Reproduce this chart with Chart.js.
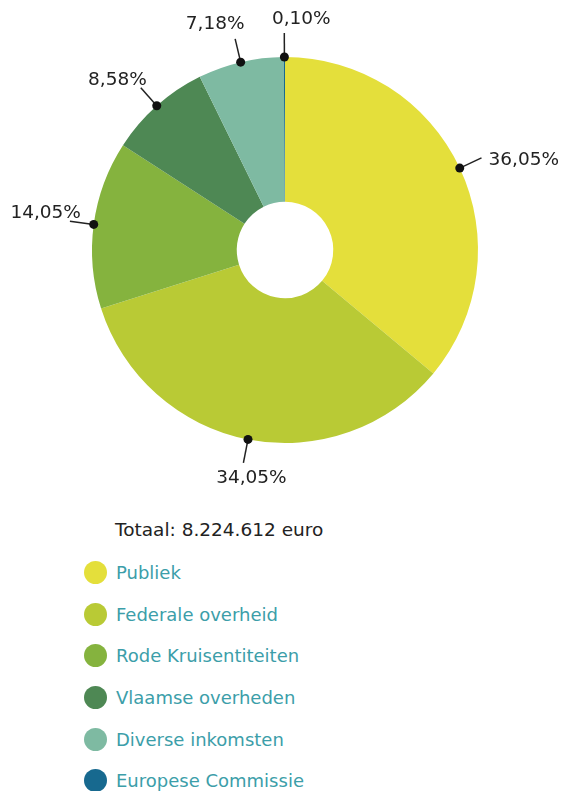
<!DOCTYPE html>
<html>
<head>
<meta charset="utf-8">
<script src="https://cdn.jsdelivr.net/npm/chart.js@4.4.1/dist/chart.umd.min.js"></script>
<style>
body { margin: 0; background: #fff; font-family: "DejaVu Sans", Verdana, sans-serif; }
#wrap { position: relative; width: 562px; height: 791px; overflow: hidden; }
#chart { position: absolute; left: 0; top: 0; }
#total { position: absolute; left: 115px; top: 519px; font-size: 18.5px; color: #222; }
#legend { position: absolute; left: 84px; top: 552px; margin: 0; padding: 0; list-style: none; }
#legend li { height: 41.6px; display: flex; align-items: center; font-size: 18px; color: #3c9ea9; }
#legend .dot { width: 23px; height: 23px; border-radius: 50%; margin-right: 9px; flex: none; }
</style>
</head>
<body>
<div id="wrap">
  <canvas id="chart" width="562" height="500"></canvas>
  <div id="total">Totaal: 8.224.612 euro</div>
  <ul id="legend"></ul>
</div>
<script>
var LABELS = ['Publiek', 'Federale overheid', 'Rode Kruisentiteiten', 'Vlaamse overheden', 'Diverse inkomsten', 'Europese Commissie'];
var SHARES = [36.05, 34.05, 14.05, 8.58, 7.18, 0.10];
var COLORS = ['#e4df3b', '#b9ca35', '#85b33e', '#4e8854', '#7ebaa2', '#17698f'];

// where each percentage text sits relative to the end of its leader line
var LABEL_PLACE = [
	{dx: 7, dy: 2, align: 'left'},
	{dx: 8, dy: 15, align: 'center'},
	{dx: 11, dy: -8, align: 'right'},
	{dx: 6, dy: -8, align: 'right'},
	{dx: -20, dy: -15, align: 'center'},
	{dx: 17, dy: -14, align: 'center'}
];

var leaderLabels = {
	id: 'leaderLabels',
	afterDatasetsDraw: function(chart, args, opts) {
		var ctx = chart.ctx;
		var values = chart.data.datasets[0].data;
		chart.getDatasetMeta(0).data.forEach(function(arc, i) {
			var p = arc.getProps(['x', 'y', 'startAngle', 'endAngle', 'outerRadius'], true);
			var mid = (p.startAngle + p.endAngle) / 2;
			var cx = Math.cos(mid), cy = Math.sin(mid);
			var px = p.x + cx * p.outerRadius, py = p.y + cy * p.outerRadius;
			var ex = p.x + cx * (p.outerRadius + opts.length), ey = p.y + cy * (p.outerRadius + opts.length);
			ctx.save();
			ctx.strokeStyle = '#222';
			ctx.lineWidth = 1.5;
			ctx.beginPath();
			ctx.moveTo(px, py);
			ctx.lineTo(ex, ey);
			ctx.stroke();
			ctx.fillStyle = '#111';
			ctx.beginPath();
			ctx.arc(px, py, 4.5, 0, Math.PI * 2);
			ctx.fill();
			var place = LABEL_PLACE[i];
			ctx.font = '18.5px "DejaVu Sans", Verdana, sans-serif';
			ctx.fillStyle = '#222';
			ctx.textAlign = place.align;
			ctx.textBaseline = 'middle';
			ctx.fillText(values[i].toFixed(2).replace('.', ',') + '%', ex + place.dx, ey + place.dy);
			ctx.restore();
		});
	}
};

new Chart(document.getElementById('chart').getContext('2d'), {
	type: 'doughnut',
	data: {
		labels: LABELS,
		datasets: [{
			data: SHARES,
			backgroundColor: COLORS,
			borderWidth: 0
		}]
	},
	options: {
		responsive: false,
		animation: false,
		cutout: '25%',
		layout: { padding: { left: 92, right: 84, top: 57, bottom: 57 } },
		plugins: {
			legend: { display: false },
			tooltip: { enabled: false },
			leaderLabels: { length: 24 }
		}
	},
	plugins: [leaderLabels]
});

// legend list below the total
var list = document.getElementById('legend');
LABELS.forEach(function(name, i) {
	var li = document.createElement('li');
	var dot = document.createElement('span');
	dot.className = 'dot';
	dot.style.background = COLORS[i];
	li.appendChild(dot);
	li.appendChild(document.createTextNode(name));
	list.appendChild(li);
});
</script>
</body>
</html>
